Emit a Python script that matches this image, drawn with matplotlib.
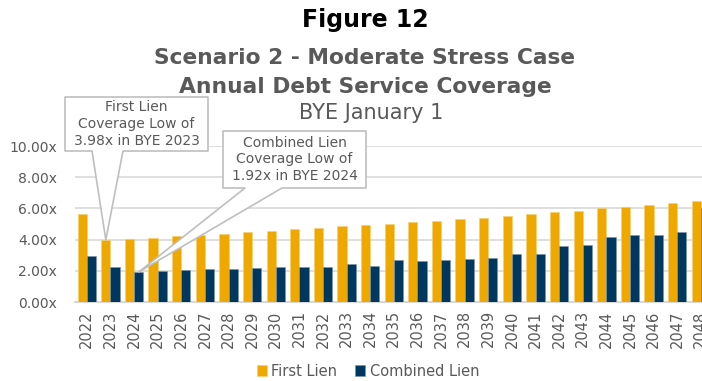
import matplotlib
matplotlib.use("Agg")
import matplotlib.pyplot as plt
import numpy as np
from matplotlib.patches import Polygon

years = [str(y) for y in range(2022, 2049)]
first_lien = [5.67, 3.98, 4.03, 4.12, 4.20, 4.31, 4.35, 4.46, 4.56, 4.65, 4.76, 4.84,
              4.95, 5.03, 5.14, 5.22, 5.33, 5.41, 5.52, 5.67, 5.78, 5.86, 6.01, 6.11,
              6.24, 6.37, 6.50]
combined_lien = [2.95, 2.23, 1.92, 1.96, 2.04, 2.10, 2.14, 2.19, 2.23, 2.23, 2.23, 2.42,
                 2.29, 2.68, 2.61, 2.68, 2.76, 2.80, 3.06, 3.10, 3.59, 3.63, 4.16, 4.27,
                 4.31, 4.46, 6.05]
yticks = [0, 2, 4, 6, 8, 10]
ytick_labels = ["0.00x", "2.00x", "4.00x", "6.00x", "8.00x", "10.00x"]

YEL = "#EFA800"
NAV = "#00375F"
GRAY = "#595959"
GRID = "#D9D9D9"
BOX = "#BFBFBF"

W, H = 702, 381
fig = plt.figure(figsize=(W / 100, H / 100), dpi=100)

def fx(px):
    return px / W

def fy(py):
    return 1 - py / H

ax = fig.add_axes([fx(75), fy(302), 1 - fx(75), (302 - 146) / H])
x = np.arange(len(years))
bw = 0.39
ax.bar(x - bw / 2, first_lien, bw, color=YEL, edgecolor="#F6CF70", linewidth=0.4, label="First Lien", zorder=3)
ax.bar(x + bw / 2, combined_lien, bw, color=NAV, edgecolor="#7A93AA", linewidth=0.4, label="Combined Lien", zorder=3)
ax.set_xlim(-0.5, 26.05)
ax.set_ylim(0, 10)
ax.set_yticks(yticks)
ax.set_yticklabels(ytick_labels)
ax.set_xticks(x)
ax.set_xticklabels(years, rotation=90)
ax.tick_params(axis="both", length=0, colors=GRAY, labelsize=10)
ax.tick_params(axis="x", labelsize=10.5, pad=6)
ax.tick_params(axis="y", pad=13)
ax.yaxis.grid(True, color=GRID, linewidth=1.2, zorder=0)
ax.set_axisbelow(True)
for s in ["top", "right", "left"]:
    ax.spines[s].set_visible(False)
ax.spines["bottom"].set_color(GRID)
ax.spines["bottom"].set_linewidth(1.5)

# Titles
cx = fx(365)
fig.text(cx, fy(20), "Figure 12", ha="center", va="center", fontsize=17, fontweight="bold", color="black")
fig.text(cx, fy(58), "Scenario 2 - Moderate Stress Case", ha="center", va="center", fontsize=15.7, fontweight="bold", color=GRAY)
fig.text(cx, fy(87), "Annual Debt Service Coverage", ha="center", va="center", fontsize=15.7, fontweight="bold", color=GRAY)
fig.text(fx(371), fy(113), "BYE January 1", ha="center", va="center", fontsize=15, color=GRAY)

# Legend
fig.legend(loc="center", bbox_to_anchor=(fx(368), fy(371)), ncol=2, frameon=False,
           handlelength=0.7, handleheight=0.7, handletextpad=0.3, columnspacing=1.2,
           fontsize=10.5, labelcolor=GRAY)

# Overlay axes in pixel coordinates for the callouts
ov = fig.add_axes([0, 0, 1, 1], zorder=5)
ov.set_xlim(0, W)
ov.set_ylim(H, 0)
ov.axis("off")
ov.patch.set_alpha(0)

def to_px(xd, yd):
    disp = ax.transData.transform((xd, yd))
    return ov.transData.inverted().transform(disp)

def callout(box, base, tip_data, text):
    x0, y0, x1, y1 = box
    bl, br = base
    tx, ty = to_px(*tip_data)
    shape = [(x0, y0), (x1, y0), (x1, y1), (br, y1), (tx, ty), (bl, y1), (x0, y1)]
    ov.add_patch(Polygon(shape, closed=True, facecolor="white", edgecolor=BOX,
                         linewidth=1.2, joinstyle="round", clip_on=False))
    ov.text((x0 + x1) / 2, (y0 + y1) / 2, text, ha="center", va="center",
            fontsize=10, color=GRAY, linespacing=1.25)

callout((65, 97, 208, 151), (92, 123), (1 - bw / 2, first_lien[1]),
        "First Lien\nCoverage Low of\n3.98x in BYE 2023")
callout((223, 131, 366, 188), (245, 282), (2 + bw / 2, combined_lien[2]),
        "Combined Lien\nCoverage Low of\n1.92x in BYE 2024")

fig.savefig("out.png", dpi=100)
